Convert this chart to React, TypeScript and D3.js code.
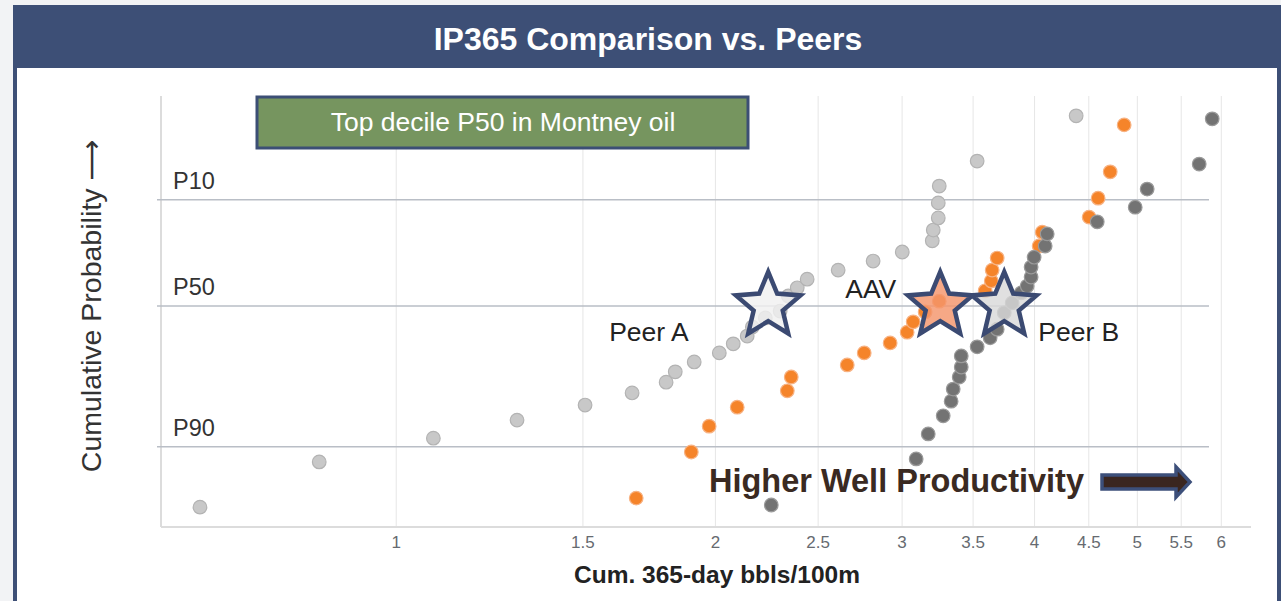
import React, { useRef, useEffect } from 'react';
import * as d3 from 'd3';

// series values: [cum. 365-day bbls/100m, cumulative rank 0-100]
const peerA: [number, number][] = [
  [0.653, 4.6], [0.846, 15.1], [1.084, 20.6], [1.30, 24.8], [1.507, 28.3],
  [1.669, 31.1], [1.797, 33.6], [1.833, 36.0], [1.910, 38.3], [2.017, 40.4],
  [2.079, 42.5], [2.143, 44.3], [2.167, 46.4], [2.229, 48.5], [2.302, 50.1],
  [2.343, 53.6], [2.389, 55.5], [2.441, 57.5], [2.611, 59.6], [2.817, 61.7],
  [3.001, 63.8], [3.203, 66.4], [3.210, 68.9], [3.245, 71.7], [3.245, 75.2],
  [3.252, 79.1], [3.531, 84.9], [4.378, 95.4]
];

const aav: [number, number][] = [
  [1.684, 6.7], [1.898, 17.4], [1.973, 23.4], [2.097, 27.8], [2.338, 31.6],
  [2.358, 34.8], [2.663, 37.6], [2.763, 40.4], [2.923, 42.7], [3.033, 45.2],
  [3.073, 47.6], [3.154, 49.9], [3.252, 52.4], [3.593, 54.8], [3.641, 57.1],
  [3.648, 59.6], [3.688, 62.4], [4.040, 65.2], [4.067, 68.4], [4.503, 71.9],
  [4.592, 76.3], [4.714, 82.4], [4.859, 93.3]
];

const peerB: [number, number][] = [
  [2.258, 5.1], [3.093, 15.8], [3.175, 21.6], [3.280, 25.8], [3.337, 29.2],
  [3.352, 32.0], [3.396, 34.8], [3.411, 37.1], [3.411, 39.7], [3.531, 41.8],
  [3.632, 43.9], [3.688, 45.9], [3.745, 49.7], [3.810, 52.0], [3.885, 54.3],
  [3.936, 55.9], [3.970, 58.0], [3.970, 60.3], [3.996, 62.6], [4.093, 65.2],
  [4.111, 68.0], [4.583, 70.8], [4.977, 74.2], [5.108, 78.4], [5.719, 84.2],
  [5.883, 94.7]
];

// P50 markers for each company
const starNames = ['Peer A', 'AAV', 'Peer B'];
const starX = [2.243, 3.259, 3.745];

const pLabels = ['P10', 'P50', 'P90'];
const pValues = [75.9, 51.3, 18.6];

const xTicks = [1, 1.5, 2, 2.5, 3, 3.5, 4, 4.5, 5, 5.5, 6];

const App = () => {
  const svgRef = useRef<SVGSVGElement | null>(null);

  useEffect(() => {
    if (!svgRef.current) return;
    const svg = d3.select(svgRef.current);
    svg.selectAll('*').remove();

    const W = 1281;
    const H = 601;
    const plot = { left: 161, right: 1251, top: 96, bottom: 527 };
    const font = 'Liberation Sans, Arial, sans-serif';

    const x = d3.scaleLog().domain([0.6, 6.4]).range([plot.left, plot.right]);
    const y = d3.scaleLinear().domain([0, 100]).range([plot.bottom, plot.top]);

    // frame
    svg.append('rect').attr('width', W).attr('height', H).attr('fill', '#f2f3f5');
    svg.append('rect').attr('x', 13).attr('y', 5).attr('width', W - 13).attr('height', H - 5).attr('fill', '#3d4f76');
    svg.append('rect').attr('x', 17).attr('y', 68).attr('width', 1260).attr('height', H - 68).attr('fill', '#ffffff');

    svg.append('text')
      .attr('x', 648).attr('y', 50)
      .attr('text-anchor', 'middle')
      .attr('font-family', font).attr('font-weight', 'bold').attr('font-size', '32px')
      .attr('fill', '#ffffff')
      .text('IP365 Comparison vs. Peers');

    // vertical gridlines
    svg.append('g')
      .selectAll('line')
      .data(xTicks)
      .join('line')
      .attr('x1', d => x(d)).attr('x2', d => x(d))
      .attr('y1', plot.top).attr('y2', plot.bottom)
      .attr('stroke', '#e6e6e6').attr('stroke-width', 1);

    // axis lines
    svg.append('line')
      .attr('x1', plot.left).attr('x2', plot.left)
      .attr('y1', plot.top).attr('y2', plot.bottom)
      .attr('stroke', '#dcdcdc').attr('stroke-width', 2);
    svg.append('line')
      .attr('x1', plot.left).attr('x2', plot.right)
      .attr('y1', plot.bottom).attr('y2', plot.bottom)
      .attr('stroke', '#dcdcdc').attr('stroke-width', 2);

    // P10 / P50 / P90 level lines
    pValues.forEach((v, i) => {
      svg.append('line')
        .attr('x1', 157).attr('x2', 1209)
        .attr('y1', y(v)).attr('y2', y(v))
        .attr('stroke', '#b9bec6').attr('stroke-width', 1.5);
      svg.append('text')
        .attr('x', 173).attr('y', y(v) - 11)
        .attr('font-family', font).attr('font-size', '23.5px')
        .attr('fill', '#333')
        .text(pLabels[i]);
    });

    // tick labels
    svg.append('g')
      .selectAll('text')
      .data(xTicks)
      .join('text')
      .attr('x', d => x(d)).attr('y', 548)
      .attr('text-anchor', 'middle')
      .attr('font-family', font).attr('font-size', '17px')
      .attr('fill', '#666a70')
      .text(d => String(d));

    svg.append('text')
      .attr('x', 717).attr('y', 583)
      .attr('text-anchor', 'middle')
      .attr('font-family', font).attr('font-weight', 'bold').attr('font-size', '24.5px')
      .attr('fill', '#222')
      .text('Cum. 365-day bbls/100m');

    const yTitle = svg.append('text')
      .attr('transform', 'translate(101,306) rotate(-90)')
      .attr('text-anchor', 'middle')
      .attr('font-family', font).attr('font-size', '28.5px')
      .attr('fill', '#333');
    yTitle.append('tspan').text('Cumulative Probability ');
    yTitle.append('tspan').attr('font-family', 'DejaVu Sans').text('\u27F6');

    // green callout box
    svg.append('rect')
      .attr('x', 257).attr('y', 97).attr('width', 491).attr('height', 51)
      .attr('fill', '#76955f').attr('stroke', '#3c4f75').attr('stroke-width', 3);
    svg.append('text')
      .attr('x', 503).attr('y', 131)
      .attr('text-anchor', 'middle')
      .attr('font-family', font).attr('font-size', '26.5px')
      .attr('fill', '#ffffff')
      .text('Top decile P50 in Montney oil');

    // points
    const drawDots = (pts: [number, number][], fill: string, stroke: string) => {
      svg.append('g')
        .selectAll('circle')
        .data(pts)
        .join('circle')
        .attr('cx', d => x(d[0])).attr('cy', d => y(d[1]))
        .attr('r', 6.8)
        .attr('fill', fill).attr('stroke', stroke).attr('stroke-width', 1.2);
    };
    drawDots(peerA, '#c8c8c8', '#b3b3b3');
    drawDots(aav, '#f5842a', '#f7b283');
    drawDots(peerB, '#737373', '#9a9a9a');

    // P50 stars
    const starFill = ['#f0f0f0', '#f4956b', '#d9d9d9'];
    const R = 34;
    const r = R * 0.45;
    const starPts: [number, number][] = d3.range(10).map(i => {
      const a = (i * Math.PI) / 5;
      return [a, i % 2 === 0 ? R : r];
    });
    const star = d3.lineRadial().curve(d3.curveLinearClosed);
    starX.forEach((v, i) => {
      svg.append('path')
        .attr('transform', `translate(${x(v)},${y(pValues[1])})`)
        .attr('d', star(starPts))
        .attr('fill', starFill[i]).attr('fill-opacity', 0.82)
        .attr('stroke', '#3b4a72').attr('stroke-width', 4.5)
        .attr('stroke-linejoin', 'miter');
    });

    // star labels
    const labelPos = [
      { dx: -159, dy: 35 },
      { dx: -95, dy: -8 },
      { dx: 34, dy: 35 }
    ];
    starNames.forEach((name, i) => {
      svg.append('text')
        .attr('x', x(starX[i]) + labelPos[i].dx)
        .attr('y', y(pValues[1]) + labelPos[i].dy)
        .attr('font-family', font).attr('font-size', '26.5px')
        .attr('fill', '#222')
        .text(name);
    });

    // "Higher Well Productivity" note with arrow
    svg.append('text')
      .attr('x', 709).attr('y', 492)
      .attr('font-family', font).attr('font-weight', 'bold').attr('font-size', '32.5px')
      .attr('fill', '#3a2a22')
      .text('Higher Well Productivity');
    svg.append('path')
      .attr('d', 'M1102,475 L1176,475 L1176,467 L1190,482 L1176,497 L1176,489 L1102,489 Z')
      .attr('fill', '#3a2620').attr('stroke', '#3c4f7a').attr('stroke-width', 3.5)
      .attr('stroke-linejoin', 'miter');
  }, []);

  return (
    <div style={{ position: 'absolute', left: 0, top: 0, width: 1281, height: 601 }}>
      <svg ref={svgRef} width={1281} height={601} style={{ display: 'block' }} />
    </div>
  );
};

export default App;
